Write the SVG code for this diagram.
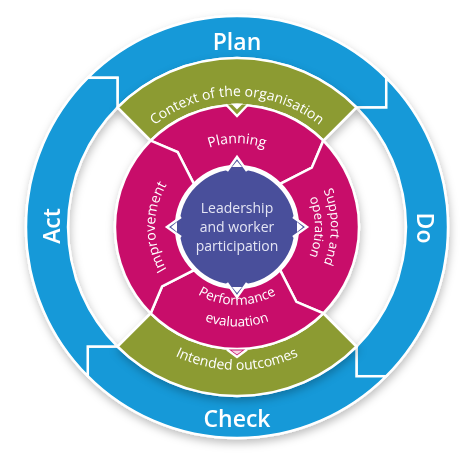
<svg xmlns="http://www.w3.org/2000/svg" width="474" height="474" viewBox="0 0 474 474">
<defs>
<style>
.blue{fill:#1299d8;stroke:#fff;stroke-width:2.5;stroke-linejoin:miter}
.green{fill:#8c9b30;stroke:#fff;stroke-width:2.5}
.pink{fill:#c8116b;stroke:#fff;stroke-width:2.5;stroke-linejoin:miter}
.core{fill:#4a4f9b;stroke:#fff;stroke-width:3}
.big{font-family:"Open Sans","Liberation Sans",sans-serif;font-weight:600;font-size:23px;fill:#fff;text-anchor:middle}
.lab{font-family:"Open Sans","Liberation Sans",sans-serif;font-size:14px;fill:#fff}
.sm{font-size:13.5px}
.xs{font-size:13px}
.ctr{font-family:"Open Sans","Liberation Sans",sans-serif;font-size:14px;fill:#e4e5f4;text-anchor:middle}
</style>
<filter id="sh" x="-15%" y="-15%" width="130%" height="135%">
<feDropShadow dx="1" dy="4" stdDeviation="4" flood-color="#000" flood-opacity="0.25"/>
</filter>
<path id="pdca" d="M87.8,77.8 A211,211 0 0 1 386.2,77.8 L386.2,107.5 L356.5,107.5 A169,169 0 0 0 117.5,107.5 L117.5,77.8 Z"/>
<path id="gseg" d="M117.5,107.5 A169,169 0 0 1 356.5,107.5 L323.3,140.7 A122,122 0 0 0 150.7,140.7 Z"/>
<path id="pseg" d="M150.7,140.7 A122,122 0 0 1 323.3,140.7 L312,167.6 L280.1,183.9 A61,61 0 0 0 193.9,183.9 L177.6,152.1 Z"/>
<path id="tTop" d="M108,204.25 A131,131 0 0 1 366,204.25"/>
<path id="tBot" d="M113.2,298.5 A143,143 0 0 0 360.8,298.5"/>
<path id="tPlan" d="M158.1,198.3 A84,84 0 0 1 315.9,198.3"/>
<path id="tSup" d="M284,145.6 A94,94 0 0 1 284,308.4"/>
<path id="tOp" d="M276,159.5 A78,78 0 0 1 276,294.5"/>
<path id="tPerf" d="M169.5,266 A78,78 0 0 0 304.5,266"/>
<path id="tEval" d="M151,275.5 A98,98 0 0 0 323,275.5"/>
<path id="tImp" d="M196,298 A82,82 0 0 1 196,156"/>
</defs>
<rect width="474" height="474" fill="#fff"/>

<g id="pdca-ring" filter="url(#sh)">
<g id="plan"><use href="#pdca" class="blue"/></g>
<g id="do"><use href="#pdca" class="blue" transform="rotate(90 237 227)"/></g>
<g id="check"><use href="#pdca" class="blue" transform="rotate(180 237 227)"/></g>
<g id="act"><use href="#pdca" class="blue" transform="rotate(270 237 227)"/></g>
</g>
<text class="big" x="237" y="50">Plan</text>
<text class="big" x="417" y="228" transform="rotate(90 417 228)">Do</text>
<text class="big" x="237" y="427">Check</text>
<text class="big" x="60" y="226" transform="rotate(-90 60 226)">Act</text>

<g id="inner" filter="url(#sh)">
<g id="context"><use href="#gseg" class="green"/></g>
<g id="outcomes"><use href="#gseg" class="green" transform="rotate(180 237 227)"/></g>
<g id="planning"><use href="#pseg" class="pink"/></g>
<g id="support"><use href="#pseg" class="pink" transform="rotate(90 237 227)"/></g>
<g id="performance"><use href="#pseg" class="pink" transform="rotate(180 237 227)"/></g>
<g id="improvement"><use href="#pseg" class="pink" transform="rotate(270 237 227)"/></g>
<g id="leadership"><circle class="core" cx="237" cy="227" r="59"/></g>
</g>

<g id="connectors">
<path d="M226,104.5 L237,116 L248,104.5" fill="#8c9b30" stroke="#fff" stroke-width="2.5"/>
<path d="M231,103.5 L243,103.5 L237,109.5 Z" fill="#fff"/>
<path d="M227,349.5 L237,357 L247,349.5" fill="#c8116b" stroke="#fff" stroke-width="2.5"/>
<path d="M231.5,350.5 L242.5,350.5 L237,354.5 Z" fill="#f6d3e4"/>
<path d="M227,171 L237,157 L247,171" fill="#4a4f9b" stroke="#fff" stroke-width="2.5"/>
<path d="M232,167 L237,161 L242,167 Z" fill="#fff"/>
<path d="M227,283 L237,297 L247,283" fill="#4a4f9b" stroke="#fff" stroke-width="2.5"/>
<path d="M232,287 L237,293 L242,287 Z" fill="#fff"/>
<path d="M181,217 L167,227 L181,237" fill="#4a4f9b" stroke="#fff" stroke-width="2.5"/>
<path d="M177,222 L171,227 L177,232 Z" fill="#fff"/>
<path d="M293,217 L307,227 L293,237" fill="#4a4f9b" stroke="#fff" stroke-width="2.5"/>
<path d="M297,222 L303,227 L297,232 Z" fill="#fff"/>
</g>

<g id="labels">
<text class="lab"><textPath href="#tTop" startOffset="50%" text-anchor="middle">Context of the organisation</textPath></text>
<text class="lab"><textPath href="#tBot" startOffset="50%" text-anchor="middle">Intended outcomes</textPath></text>
<text class="lab"><textPath href="#tPlan" startOffset="50%" text-anchor="middle">Planning</textPath></text>
<text class="lab xs"><textPath href="#tSup" startOffset="50%" text-anchor="middle">Support and</textPath></text>
<text class="lab xs"><textPath href="#tOp" startOffset="50%" text-anchor="middle">operation</textPath></text>
<text class="lab sm"><textPath href="#tPerf" startOffset="50%" text-anchor="middle">Performance</textPath></text>
<text class="lab sm"><textPath href="#tEval" startOffset="50%" text-anchor="middle">evaluation</textPath></text>
<text class="lab"><textPath href="#tImp" startOffset="50%" text-anchor="middle">Improvement</textPath></text>
<text class="ctr" x="237" y="213">Leadership</text>
<text class="ctr" x="237" y="232">and worker</text>
<text class="ctr" x="237" y="251">participation</text>
</g>
</svg>
